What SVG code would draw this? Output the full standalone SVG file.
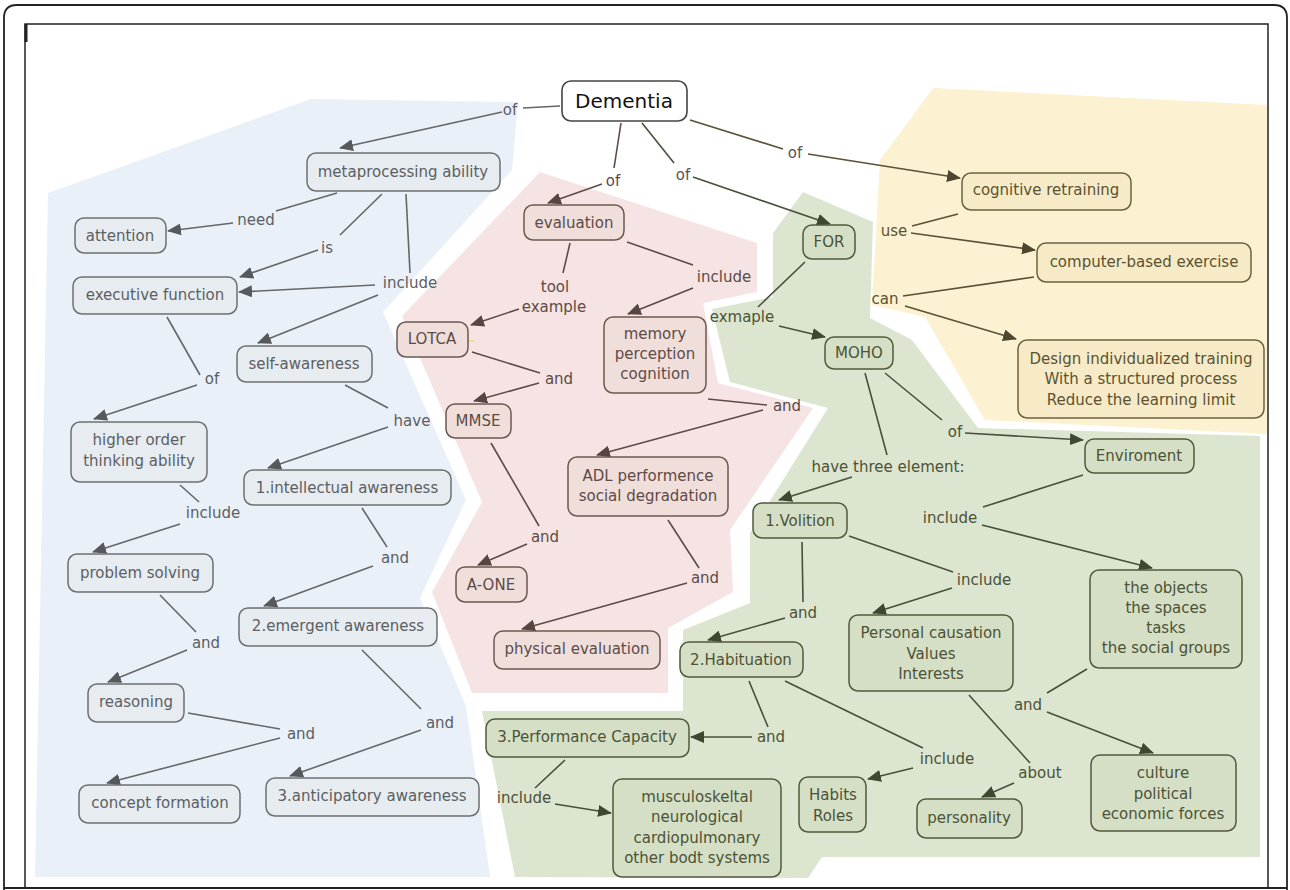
<svg xmlns="http://www.w3.org/2000/svg" width="1290" height="890" viewBox="0 0 1290 890">
<style>
text{font-family:"DejaVu Sans","Liberation Sans",sans-serif;font-size:15px;text-anchor:middle;dominant-baseline:central}
.nb{fill:#e7ecf1;stroke:#6d6f71;stroke-width:1.5}
.np{fill:#f0dedb;stroke:#6d5752;stroke-width:1.5}
.ng{fill:#d5dfc5;stroke:#505a3c;stroke-width:1.5}
.ny{fill:#f6ebc6;stroke:#6b6040;stroke-width:1.5}
.tb{fill:#5b5f63}.tp{fill:#5d4b47}.tg{fill:#4b5237}.ty{fill:#5b5232}.tk{fill:#555}
.lb{stroke:#656769;stroke-width:1.6;fill:none}
.lp{stroke:#5d4b47;stroke-width:1.6;fill:none}
.lg{stroke:#46503a;stroke-width:1.6;fill:none}
.ly{stroke:#5a5236;stroke-width:1.6;fill:none}
.ab{marker-end:url(#mb)}.ap{marker-end:url(#mp)}.ag{marker-end:url(#mg)}.ay{marker-end:url(#my)}
</style>
<defs>
<marker id="mb" markerUnits="userSpaceOnUse" markerWidth="14" markerHeight="12" refX="13" refY="6" orient="auto"><path d="M0,0 L14,6 L0,12 z" fill="#56595c"/></marker>
<marker id="mp" markerUnits="userSpaceOnUse" markerWidth="14" markerHeight="12" refX="13" refY="6" orient="auto"><path d="M0,0 L14,6 L0,12 z" fill="#574541"/></marker>
<marker id="mg" markerUnits="userSpaceOnUse" markerWidth="14" markerHeight="12" refX="13" refY="6" orient="auto"><path d="M0,0 L14,6 L0,12 z" fill="#3e4830"/></marker>
<marker id="my" markerUnits="userSpaceOnUse" markerWidth="14" markerHeight="12" refX="13" refY="6" orient="auto"><path d="M0,0 L14,6 L0,12 z" fill="#4d4730"/></marker>
</defs>
<rect width="1290" height="890" fill="#fff"/>
<g id="frame" fill="none" stroke="#222">
<path d="M4,890 V18 Q4,5 17,5 H1274 Q1287,5 1287,18 V890" stroke-width="1.8"/>
<rect x="25" y="24" width="1243" height="864" stroke-width="1.5"/>
<line x1="26" y1="24" x2="26" y2="42" stroke-width="3"/>
<line x1="4" y1="888" x2="1287" y2="888" stroke-width="1.8"/>
</g>
<g id="regions" stroke="none">
<polygon fill="#eaf0f8" points="48,193 311,99 518,102 512,170 383,312 466,500 420,598 466,706 490,877 35,877"/>
<polygon fill="#f5e4e3" points="540,172 757,243 757,292 703,303 718,383 813,408 730,530 733,592 668,628 668,693 472,693 432,592 482,502 402,316"/>
<polygon fill="#dce5cf" points="803,192 873,222 870,318 912,340 978,428 1260,436 1260,857 822,857 808,878 515,877 482,711 683,711 683,630 750,603 750,533 828,408 730,382 712,309 773,297 773,233"/>
<polygon fill="#fcf1d0" points="933,88 1267,105 1267,434 985,420 925,317 872,305 880,160"/>
</g>
<g id="highlights" fill="none" stroke-linecap="round">
<line x1="400" y1="341" x2="474" y2="341" stroke="#e9e08a" stroke-width="2" opacity="0.8"/>
<line x1="86" y1="296" x2="228" y2="296" stroke="#e4ecb8" stroke-width="7" opacity="0.6"/>
<line x1="140" y1="567" x2="211" y2="567" stroke="#e8e39a" stroke-width="1.5" opacity="0.8"/>
</g>
<g id="connectors">
<path class="lb" d="M560,106 L523,108"/><path class="lb ab" d="M502,112 L340,148"/>
<path class="lb" d="M337,193 L276,211"/><path class="lb ab" d="M233,223 L168,231"/>
<path class="lb" d="M382,194 L340,235"/><path class="lb ab" d="M318,250 L240,277"/>
<path class="lb" d="M406,194 L410,273"/><path class="lb ab" d="M375,285 L239,292"/><path class="lb ab" d="M378,295 L258,343"/>
<path class="lb" d="M167,317 L200,375"/><path class="lb ab" d="M197,385 L94,419"/>
<path class="lb" d="M345,385 L388,408"/><path class="lb ab" d="M388,427 L268,468"/>
<path class="lb" d="M180,485 L199,502"/><path class="lb ab" d="M180,524 L93,552"/>
<path class="lb" d="M362,508 L387,547"/><path class="lb ab" d="M373,566 L264,606"/>
<path class="lb" d="M160,595 L196,632"/><path class="lb ab" d="M187,650 L108,682"/>
<path class="lb" d="M188,713 L280,729"/><path class="lb ab" d="M280,738 L107,783"/>
<path class="lb" d="M362,650 L421,709"/><path class="lb ab" d="M421,730 L290,776"/>
<path class="lp" d="M621,123 L614,168"/><path class="lp ap" d="M602,184 L548,203"/>
<path class="lp" d="M570,243 L563,273"/><path class="lp ap" d="M519,309 L471,325"/>
<path class="lp" d="M627,242 L693,265"/><path class="lp ap" d="M693,288 L628,314"/>
<path class="lp" d="M472,352 L540,373"/><path class="lp ap" d="M539,383 L474,401"/>
<path class="lp" d="M708,399 L767,405"/><path class="lp ap" d="M763,410 L597,455"/>
<path class="lp" d="M491,443 L539,526"/><path class="lp ap" d="M527,544 L478,565"/>
<path class="lp" d="M668,520 L699,568"/><path class="lp ap" d="M687,583 L522,629"/>
<path class="lg" d="M642,123 L674,163"/><path class="lg ag" d="M693,177 L830,224"/>
<path class="lg" d="M805,262 L758,307"/><path class="lg ag" d="M779,326 L825,337"/>
<path class="lg" d="M885,373 L942,420"/><path class="lg ag" d="M965,433 L1083,440"/>
<path class="lg" d="M865,373 L887,455"/><path class="lg ag" d="M852,477 L779,500"/>
<path class="lg" d="M1083,475 L983,507"/><path class="lg ag" d="M982,525 L1152,568"/>
<path class="lg" d="M849,536 L953,572"/><path class="lg ag" d="M952,588 L873,613"/>
<path class="lg" d="M802,542 L803,602"/><path class="lg ag" d="M785,618 L708,640"/>
<path class="lg" d="M749,681 L768,727"/><path class="lg ag" d="M752,737 L691,737"/>
<path class="lg" d="M785,681 L923,748"/><path class="lg ag" d="M913,768 L868,779"/>
<path class="lg" d="M969,695 L1030,763"/><path class="lg ag" d="M1014,783 L982,797"/>
<path class="lg" d="M1087,669 L1047,693"/><path class="lg ag" d="M1047,712 L1153,753"/>
<path class="lg" d="M565,760 L535,788"/><path class="lg ag" d="M555,804 L611,813"/>
<path class="ly" d="M690,120 L783,149"/><path class="ly ay" d="M808,154 L960,178"/>
<path class="ly" d="M958,214 L912,226"/><path class="ly ay" d="M911,233 L1035,250"/>
<path class="ly" d="M1034,277 L903,296"/><path class="ly ay" d="M905,306 L1016,339"/>
</g>
<g id="labels">
<text class="tb" x="510" y="110">of</text>
<text class="tb" x="256" y="220">need</text>
<text class="tb" x="327" y="248">is</text>
<text class="tb" x="410" y="283">include</text>
<text class="tb" x="212" y="379">of</text>
<text class="tb" x="412" y="421">have</text>
<text class="tb" x="213" y="513">include</text>
<text class="tb" x="395" y="558">and</text>
<text class="tb" x="206" y="643">and</text>
<text class="tb" x="301" y="734">and</text>
<text class="tb" x="440" y="723">and</text>
<text class="tp" x="613" y="181">of</text>
<text class="tp" x="555" y="287">tool</text>
<text class="tp" x="554" y="307">example</text>
<text class="tp" x="724" y="277">include</text>
<text class="tp" x="559" y="379">and</text>
<text class="tp" x="787" y="406">and</text>
<text class="tp" x="545" y="537">and</text>
<text class="tp" x="705" y="578">and</text>
<text class="tk" x="683" y="175">of</text>
<text class="tg" x="742" y="317">exmaple</text>
<text class="tg" x="955" y="432">of</text>
<text class="tg" x="888" y="467">have three element:</text>
<text class="tg" x="950" y="518">include</text>
<text class="tg" x="984" y="580">include</text>
<text class="tg" x="803" y="613">and</text>
<text class="tg" x="771" y="737">and</text>
<text class="tg" x="947" y="759">include</text>
<text class="tg" x="1040" y="773">about</text>
<text class="tg" x="1028" y="705">and</text>
<text class="tg" x="524" y="798">include</text>
<text class="tk" x="795" y="153">of</text>
<text class="ty" x="894" y="231">use</text>
<text class="ty" x="885" y="299">can</text>
</g>
<g id="n-dementia"><rect x="562" y="81" width="125" height="40" rx="9" fill="#fff" stroke="#444" stroke-width="1.6"/><text x="624" y="101" style="font-size:20px;fill:#111">Dementia</text></g>
<g id="n-meta"><rect class="nb" x="307" y="153" width="193" height="38" rx="9"/><text class="tb" x="403" y="172">metaprocessing ability</text></g>
<g id="n-attention"><rect class="nb" x="75" y="218" width="91" height="35" rx="9"/><text class="tb" x="120" y="236">attention</text></g>
<g id="n-exec"><rect class="nb" x="73" y="277" width="164" height="37" rx="9"/><text class="tb" x="155" y="295">executive function</text></g>
<g id="n-self"><rect class="nb" x="237" y="346" width="135" height="36" rx="9"/><text class="tb" x="304" y="364">self-awareness</text></g>
<g id="n-higher"><rect class="nb" x="71" y="422" width="136" height="60" rx="9"/><text class="tb" x="139" y="440">higher order</text><text class="tb" x="139" y="461">thinking ability</text></g>
<g id="n-intel"><rect class="nb" x="244" y="470" width="207" height="35" rx="9"/><text class="tb" x="347" y="488">1.intellectual awareness</text></g>
<g id="n-problem"><rect class="nb" x="68" y="554" width="145" height="38" rx="9"/><text class="tb" x="140" y="573">problem solving</text></g>
<g id="n-emergent"><rect class="nb" x="239" y="608" width="198" height="38" rx="9"/><text class="tb" x="338" y="626">2.emergent awareness</text></g>
<g id="n-reasoning"><rect class="nb" x="88" y="684" width="96" height="38" rx="9"/><text class="tb" x="136" y="702">reasoning</text></g>
<g id="n-concept"><rect class="nb" x="79" y="785" width="161" height="38" rx="9"/><text class="tb" x="160" y="803">concept formation</text></g>
<g id="n-antic"><rect class="nb" x="266" y="778" width="213" height="38" rx="9"/><text class="tb" x="372" y="796">3.anticipatory awareness</text></g>
<g id="n-evaluation"><rect class="np" x="524" y="205" width="100" height="35" rx="9"/><text class="tp" x="574" y="223">evaluation</text></g>
<g id="n-lotca"><rect class="np" x="397" y="322" width="71" height="35" rx="9"/><text class="tp" x="432" y="339">LOTCA</text></g>
<g id="n-memory"><rect class="np" x="604" y="317" width="102" height="76" rx="9"/><text class="tp" x="655" y="334">memory</text><text class="tp" x="655" y="354">perception</text><text class="tp" x="655" y="374">cognition</text></g>
<g id="n-mmse"><rect class="np" x="446" y="404" width="65" height="34" rx="9"/><text class="tp" x="478" y="421">MMSE</text></g>
<g id="n-adl"><rect class="np" x="568" y="457" width="160" height="59" rx="9"/><text class="tp" x="648" y="476">ADL performence</text><text class="tp" x="648" y="496">social degradation</text></g>
<g id="n-aone"><rect class="np" x="456" y="567" width="71" height="35" rx="9"/><text class="tp" x="491" y="585">A-ONE</text></g>
<g id="n-physical"><rect class="np" x="494" y="631" width="166" height="38" rx="9"/><text class="tp" x="577" y="649">physical evaluation</text></g>
<g id="n-for"><rect class="ng" x="803" y="225" width="52" height="34" rx="9"/><text class="tg" x="829" y="242">FOR</text></g>
<g id="n-moho"><rect class="ng" x="825" y="337" width="68" height="32" rx="9"/><text class="tg" x="859" y="353">MOHO</text></g>
<g id="n-env"><rect class="ng" x="1085" y="439" width="109" height="34" rx="9"/><text class="tg" x="1139" y="456">Enviroment</text></g>
<g id="n-volition"><rect class="ng" x="753" y="503" width="94" height="35" rx="9"/><text class="tg" x="800" y="521">1.Volition</text></g>
<g id="n-objects"><rect class="ng" x="1090" y="570" width="152" height="98" rx="9"/><text class="tg" x="1166" y="588">the objects</text><text class="tg" x="1166" y="608">the spaces</text><text class="tg" x="1166" y="628">tasks</text><text class="tg" x="1166" y="648">the social groups</text></g>
<g id="n-personal"><rect class="ng" x="849" y="615" width="164" height="76" rx="9"/><text class="tg" x="931" y="633">Personal causation</text><text class="tg" x="931" y="654">Values</text><text class="tg" x="931" y="674">Interests</text></g>
<g id="n-habituation"><rect class="ng" x="680" y="642" width="123" height="35" rx="9"/><text class="tg" x="741" y="660">2.Habituation</text></g>
<g id="n-perf"><rect class="ng" x="486" y="719" width="203" height="38" rx="9"/><text class="tg" x="587" y="737">3.Performance Capacity</text></g>
<g id="n-habits"><rect class="ng" x="799" y="777" width="67" height="55" rx="9"/><text class="tg" x="833" y="795">Habits</text><text class="tg" x="833" y="816">Roles</text></g>
<g id="n-personality"><rect class="ng" x="917" y="799" width="105" height="39" rx="9"/><text class="tg" x="969" y="818">personality</text></g>
<g id="n-culture"><rect class="ng" x="1091" y="755" width="145" height="76" rx="9"/><text class="tg" x="1163" y="773">culture</text><text class="tg" x="1163" y="794">political</text><text class="tg" x="1163" y="814">economic forces</text></g>
<g id="n-musculo"><rect class="ng" x="613" y="779" width="168" height="98" rx="9"/><text class="tg" x="697" y="797">musculoskeltal</text><text class="tg" x="697" y="817">neurological</text><text class="tg" x="697" y="838">cardiopulmonary</text><text class="tg" x="697" y="858">other bodt systems</text></g>
<g id="n-cognitive"><rect class="ny" x="962" y="173" width="169" height="37" rx="9"/><text class="ty" x="1046" y="190">cognitive retraining</text></g>
<g id="n-computer"><rect class="ny" x="1037" y="243" width="214" height="39" rx="9"/><text class="ty" x="1144" y="262">computer-based exercise</text></g>
<g id="n-design"><rect class="ny" x="1018" y="340" width="246" height="78" rx="9"/><text class="ty" x="1141" y="359">Design individualized training</text><text class="ty" x="1141" y="379">With a structured process</text><text class="ty" x="1141" y="400">Reduce the learning limit</text></g>
</svg>
